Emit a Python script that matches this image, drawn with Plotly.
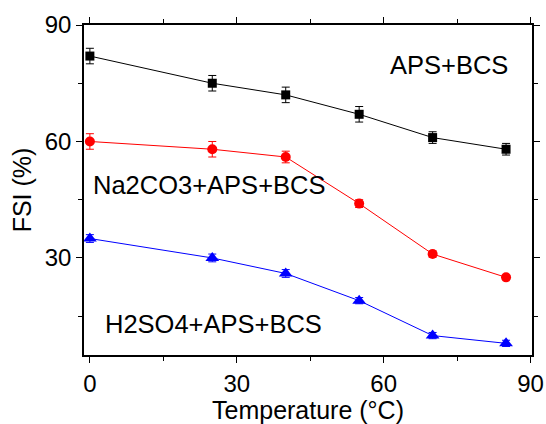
import plotly.graph_objects as go

temperature = [0, 25, 40, 55, 70, 85]

fsi_aps_bcs = [82, 75, 72, 67, 61, 58]
err_aps_bcs = [2, 2, 2, 2, 1.5, 1.5]

fsi_na2co3 = [60, 58, 56, 44, 31, 25]
err_na2co3 = [2, 2, 1.5, 1, 0.8, 0.5]

fsi_h2so4 = [35, 30, 26, 19, 10, 8]
err_h2so4 = [1, 1, 1, 0.8, 0.8, 0.8]

series = [
    ("APS+BCS", fsi_aps_bcs, err_aps_bcs, "black", "square", 9),
    ("Na2CO3+APS+BCS", fsi_na2co3, err_na2co3, "red", "circle", 10),
    ("H2SO4+APS+BCS", fsi_h2so4, err_h2so4, "blue", "triangle-up", 12),
]

fig = go.Figure()
for name, vals, errs, color, symbol, size in series:
    fig.add_trace(go.Scatter(
        x=temperature, y=vals, name=name, mode="lines+markers",
        line=dict(color=color, width=1),
        marker=dict(symbol=symbol, size=size, color=color),
        error_y=dict(type="data", array=errs, visible=True,
                     color=color, thickness=1, width=4),
    ))

font = "Liberation Sans, Arial, sans-serif"
labels = [
    ("APS+BCS", 85.9, 79.8, "right"),
    ("Na2CO3+APS+BCS", 0.2, 48.8, "left"),
    ("H2SO4+APS+BCS", 2.6, 13.1, "left"),
]
for text, x, y, anchor in labels:
    fig.add_annotation(x=x, y=y, text=text, showarrow=False, xanchor=anchor,
                       font=dict(family=font, size=25.5, color="black"))

axis_common = dict(
    showline=True, linecolor="black", linewidth=1.5, mirror="ticks",
    ticks="outside", ticklen=6, tickwidth=1, tickcolor="black",
    showgrid=False, zeroline=False, automargin=False,
    tickfont=dict(family=font, size=24, color="black"),
    title_font=dict(family=font, size=25, color="black"),
)

fig.update_xaxes(
    range=[-1.2, 90.3], tickvals=[0, 30, 60, 90],
    minor=dict(tickvals=[15, 45, 75], ticklen=4, ticks="outside", tickcolor="black"),
    title_text="Temperature (°C)", title_standoff=2, **axis_common,
)
fig.update_yaxes(
    range=[5, 90], tickvals=[30, 60, 90],
    minor=dict(tickvals=[15, 45, 75], ticklen=4, ticks="outside", tickcolor="black"),
    title_text="FSI (%)", title_standoff=6, **axis_common,
)

fig.update_layout(
    width=546, height=424,
    margin=dict(l=84, r=14, t=25, b=69),
    plot_bgcolor="white", paper_bgcolor="white",
    showlegend=False,
)

fig.write_html("out.html")
